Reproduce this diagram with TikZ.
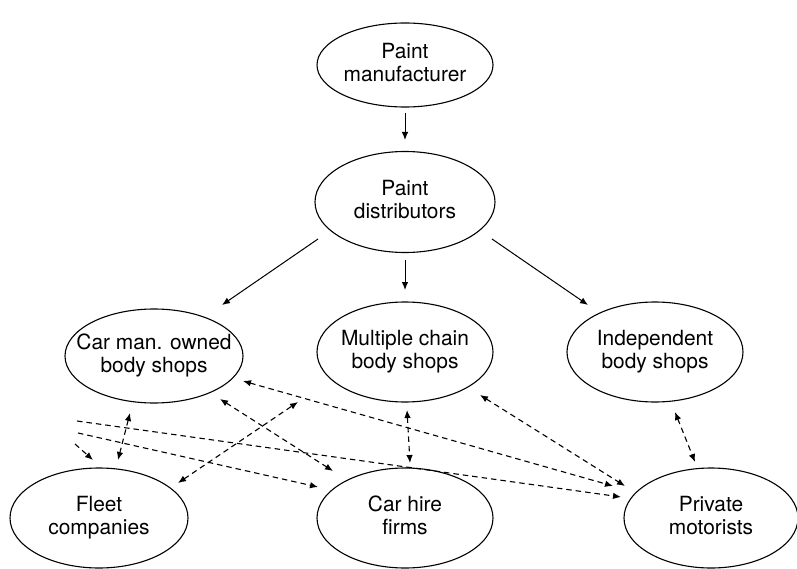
\documentclass[tikz,border=0pt]{standalone}
\usepackage{fontspec}
\setmainfont{TeX Gyre Heros}
\usetikzlibrary{shapes.geometric,arrows.meta,calc}
% two centred lines whose box has no width, so the ellipse keeps its set size
\newcommand\bubtxt[1]{\makebox[0pt]{\begin{tabular}{@{}c@{}}#1\end{tabular}}}
\begin{document}
\begin{tikzpicture}[x=1bp,y=-1bp,
  bubble/.style={ellipse,draw,line width=1.1bp,inner sep=0pt,outer sep=0pt,
    minimum width=176bp,minimum height=100bp,font=\fontsize{21}{23}\selectfont},
  tip/.style={-{Latex[length=8bp,width=6.5bp]}},
  flow/.style={line width=1bp,-{Latex[length=8bp,width=6.5bp]}},
  link/.style={line width=1.1bp,dash pattern=on 5.5bp off 4bp,
    {Latex[length=8bp,width=6.5bp]}-{Latex[length=8bp,width=6.5bp]}},
  feed/.style={line width=1.1bp,dash pattern=on 5.5bp off 4bp,
    -{Latex[length=8bp,width=6.5bp]}}]
\useasboundingbox (0,0) rectangle (797,569);

% supply chain
\node[bubble,minimum height=84bp] (man) at (405,65) {\bubtxt{Paint\\manufacturer}};
\node[bubble,minimum width=180bp,minimum height=101bp] (dist) at (405,202) {\bubtxt{Paint\\distributors}};
\node[bubble,minimum width=178bp,minimum height=94bp] (carman) at (154,356) {\bubtxt{Car man. owned\\body shops}};
\node[bubble] (multi) at (405,352) {\bubtxt{Multiple chain\\body shops}};
\node[bubble] (indep) at (655,352) {\bubtxt{Independent\\body shops}};
% customers
\node[bubble,minimum width=178bp] (fleet) at (99,518) {\bubtxt{Fleet\\companies}};
\node[bubble] (hire) at (405,518) {\bubtxt{Car hire\\firms}};
\node[bubble,minimum width=174bp] (priv) at (711,518) {\bubtxt{Private\\motorists}};

% loose ends of the open dashed lines
\coordinate (tailA) at (77,421);
\coordinate (tailB) at (78,433);
\coordinate (tailC) at (75,444);
\coordinate (openEnd) at ($(multi)+(-107,50)$);

% product flow
\draw[flow] ($(man)+(0,48)$) -- ($(dist)+(0,-62)$);
\draw[flow] ($(dist)+(-87,37)$) -- ($(carman)+(68,-51)$);
\draw[flow] ($(dist)+(0,58)$) -- ($(multi)+(0,-62)$);
\draw[flow] ($(dist)+(87,37)$) -- ($(indep)+(-67,-47)$);

% relations between shops and customers
\draw[link] ($(carman)+(89,25)$) -- ($(priv)+(-98,-32)$);
\draw[link] ($(carman)+(66,43)$) -- ($(hire)+(-72,-47)$);
\draw[link] ($(carman)+(-24,57)$) -- ($(fleet)+(19,-58)$);
\draw[link] ($(fleet)+(79,-35)$) -- (openEnd);
\draw[link] ($(multi)+(2,58)$) -- ($(hire)+(5,-55)$);
\draw[link] ($(multi)+(75,43)$) -- ($(priv)+(-86,-32)$);
\draw[link] ($(indep)+(20,60)$) -- ($(priv)+(-16,-56)$);
\draw[feed] (tailA) -- ($(priv)+(-90,-21)$);
\draw[feed] (tailB) -- ($(hire)+(-87,-31)$);
\draw[feed] (tailC) -- ($(fleet)+(-6,-58)$);
\end{tikzpicture}
\end{document}
